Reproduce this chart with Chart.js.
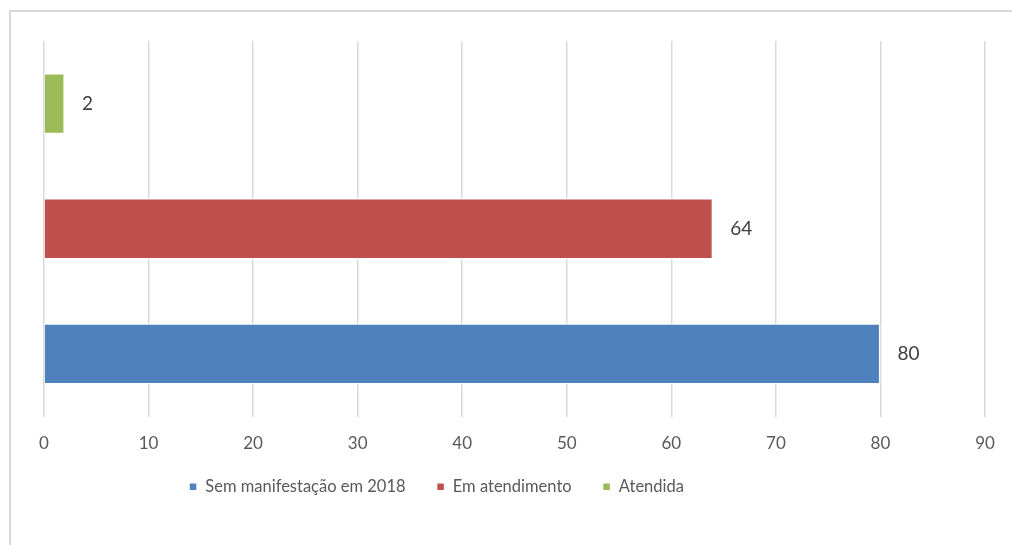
<!DOCTYPE html>
<html lang="pt">
<head>
<meta charset="UTF-8">
<title>Manifestações</title>
<script src="https://cdn.jsdelivr.net/npm/chart.js"></script>
<style>
  html, body { margin: 0; padding: 0; background: #fff; }
  #wrap { position: relative; width: 1012px; height: 545px; overflow: hidden; }
  #frame { position: absolute; left: 9px; top: 10px; width: 1100px; height: 600px;
           border-top: 2px solid #d9d9d9; border-left: 2px solid #d9d9d9; }
  canvas { position: absolute; left: 0; top: 0; }
</style>
</head>
<body>
<div id="wrap">
  <div id="frame"></div>
  <canvas id="chart" width="1012" height="545"></canvas>
</div>
<script>
  // one category, three series (drawn top to bottom, legend shown reversed)
  const categories = [''];
  const seriesNames = ['Atendida', 'Em atendimento', 'Sem manifestação em 2018'];
  const seriesValues = [[2], [64], [80]];
  const seriesColors = ['#9BBB59', '#C0504D', '#4F81BD'];
  const xTicks = [0, 10, 20, 30, 40, 50, 60, 70, 80, 90];

  const FONT = 'Lato, "Liberation Sans", sans-serif';

  // draws the value to the right of every bar
  const valueLabels = {
    id: 'valueLabels',
    afterDatasetsDraw(chart) {
      const ctx = chart.ctx;
      ctx.save();
      ctx.font = '19px ' + FONT;
      ctx.fillStyle = '#404040';
      ctx.textAlign = 'left';
      ctx.textBaseline = 'middle';
      chart.data.datasets.forEach((ds, i) => {
        chart.getDatasetMeta(i).data.forEach((bar, j) => {
          ctx.fillText(String(ds.data[j]), bar.x + 17, bar.y);
        });
      });
      ctx.restore();
    }
  };

  // the original legend sits left of centre and a bit higher
  const legendShift = {
    id: 'legendShift',
    afterLayout(chart) {
      const lg = chart.legend;
      lg.left -= 78;
      lg.right -= 78;
      lg.top -= 10;
      lg.bottom -= 10;
    }
  };

  new Chart(document.getElementById('chart'), {
    type: 'bar',
    data: {
      labels: categories,
      datasets: seriesNames.map((name, i) => ({
        label: name,
        data: seriesValues[i],
        backgroundColor: seriesColors[i],
        borderColor: '#ffffff',
        borderWidth: 1.5,
        categoryPercentage: 1.0,
        barPercentage: 0.49
      }))
    },
    options: {
      indexAxis: 'y',
      responsive: false,
      animation: false,
      layout: { padding: { left: 44, right: 27, top: 41, bottom: 30 } },
      scales: {
        x: {
          min: 0,
          max: 90,
          afterBuildTicks: scale => { scale.ticks = xTicks.map(v => ({ value: v })); },
          afterFit: scale => { scale.height = 41; },
          grid: { color: '#d9d9d9', lineWidth: 1.5, drawTicks: false },
          border: { display: false },
          ticks: { padding: 17, color: '#595959', font: { family: FONT, size: 17 } }
        },
        y: { display: false }
      },
      plugins: {
        legend: {
          position: 'bottom',
          reverse: true,
          labels: {
            boxWidth: 8,
            boxHeight: 8,
            padding: 31,
            color: '#595959',
            font: { family: FONT, size: 16.5 }
          }
        },
        tooltip: { enabled: false }
      }
    },
    plugins: [valueLabels, legendShift]
  });
</script>
</body>
</html>
